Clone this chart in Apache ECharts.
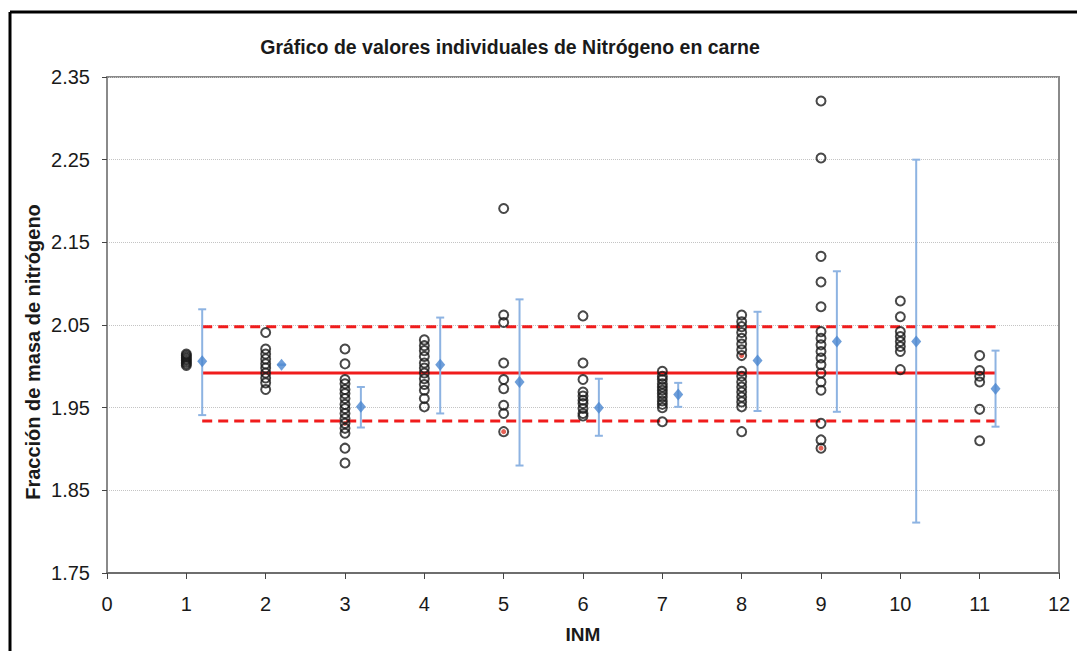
<!DOCTYPE html>
<html>
<head>
<meta charset="utf-8">
<script src="https://cdn.jsdelivr.net/npm/echarts@6/dist/echarts.min.js"></script>
<style>
  html, body { margin: 0; padding: 0; background: #fff; }
  #chart { width: 1077px; height: 651px; }
</style>
</head>
<body>
<div id="chart"></div>
<script>
// individual results per laboratory (INM)
var inm1 = [2.015, 2.013, 2.011, 2.009, 2.007, 2.005, 2.003, 2.001];
var inm2 = [2.041, 2.021, 2.015, 2.009, 2.003, 1.998, 1.992, 1.986, 1.980, 1.972];
var inm3 = [2.021, 2.003, 1.984, 1.979, 1.972, 1.967, 1.961, 1.954, 1.949, 1.943, 1.937, 1.931, 1.925, 1.919, 1.901, 1.883];
var inm4 = [2.032, 2.025, 2.019, 2.012, 2.004, 1.998, 1.992, 1.985, 1.978, 1.971, 1.961, 1.951];
var inm5 = [2.191, 2.062, 2.053, 2.004, 1.984, 1.973, 1.953, 1.943, 1.921];
var inm6 = [2.061, 2.004, 1.984, 1.969, 1.964, 1.959, 1.955, 1.949, 1.943, 1.940];
var inm7 = [1.994, 1.988, 1.984, 1.979, 1.975, 1.971, 1.967, 1.963, 1.958, 1.954, 1.950, 1.933];
var inm8 = [2.062, 2.054, 2.048, 2.041, 2.034, 2.027, 2.020, 2.013, 1.994, 1.988, 1.981, 1.975, 1.969, 1.963, 1.957, 1.951, 1.921];
var inm9 = [2.321, 2.252, 2.133, 2.102, 2.072, 2.042, 2.034, 2.026, 2.018, 2.010, 2.002, 1.992, 1.981, 1.971, 1.931, 1.911, 1.901];
var inm10 = [2.079, 2.060, 2.042, 2.036, 2.030, 2.024, 2.018, 1.996];
var inm11 = [2.013, 1.995, 1.988, 1.981, 1.948, 1.910];
var individual = [inm1, inm2, inm3, inm4, inm5, inm6, inm7, inm8, inm9, inm10, inm11];

// highlighted individual results (red centre)
var redPoints = [[3, 1.931], [5, 1.921], [8, 2.013], [9, 1.901]];

// laboratory means with their uncertainty range (plotted beside each column)
var labX = [1.2, 2.2, 3.2, 4.2, 5.2, 6.2, 7.2, 8.2, 9.2, 10.2, 11.2];
var labMean = [2.006, 2.002, 1.951, 2.002, 1.981, 1.950, 1.966, 2.007, 2.030, 2.030, 1.973];
var labHigh = [2.069, 2.002, 1.975, 2.059, 2.081, 1.985, 1.980, 2.066, 2.115, 2.250, 2.019];
var labLow = [1.941, 2.002, 1.926, 1.943, 1.880, 1.916, 1.951, 1.946, 1.945, 1.811, 1.927];

// reference value and its limits
var refX = [1.2, 11.2];
var refValue = 1.992;
var refUpper = 2.048;
var refLower = 1.934;

var yTicks = [1.75, 1.85, 1.95, 2.05, 2.15, 2.25, 2.35];

var scatterData = [];
individual.forEach(function (vals, i) {
  vals.forEach(function (v) { scatterData.push([i + 1, v]); });
});
var meanData = labX.map(function (x, i) { return [x, labMean[i]]; });
var barData = labX.map(function (x, i) { return [x, labLow[i], labHigh[i]]; });
function refLine(v) { return refX.map(function (x) { return [x, v]; }); }

var chart = echarts.init(document.getElementById('chart'), null, { renderer: 'svg' });
var font = '"Liberation Sans", Arial, sans-serif';

var option = {
  backgroundColor: '#fff',
  animation: false,
  title: {
    text: 'Gráfico de valores individuales de Nitrógeno en carne',
    left: 505,
    textAlign: 'center',
    top: 32,
    textStyle: { fontFamily: font, fontSize: 19.5, fontWeight: 'bold', color: '#1a1a1a' }
  },
  graphic: [
    { type: 'line', shape: { x1: 10, y1: 12, x2: 1077, y2: 12 }, style: { stroke: '#000', lineWidth: 3 } },
    { type: 'line', shape: { x1: 10, y1: 12, x2: 10, y2: 651 }, style: { stroke: '#000', lineWidth: 3 } },
    {
      type: 'text', x: 33, y: 352, rotation: Math.PI / 2,
      style: {
        text: 'Fracción de masa de nitrógeno', fill: '#1a1a1a',
        font: 'bold 20px "Liberation Sans", Arial, sans-serif',
        textAlign: 'center', textVerticalAlign: 'middle'
      }
    }
  ],
  grid: {
    left: 107, right: 18, top: 77, bottom: 78,
    show: true, borderColor: '#8a8a8a', borderWidth: 2
  },
  xAxis: {
    type: 'value', min: 0, max: 12, interval: 1,
    name: 'INM', nameLocation: 'middle', nameGap: 52,
    nameTextStyle: { fontFamily: font, fontSize: 19, fontWeight: 'bold', color: '#1a1a1a' },
    axisLine: { lineStyle: { color: '#6e6e6e', width: 2 } },
    axisTick: { length: 6, lineStyle: { color: '#444' } },
    axisLabel: { margin: 21, fontFamily: font, fontSize: 20, color: '#1a1a1a' },
    splitLine: { show: false }
  },
  yAxis: {
    type: 'value', min: yTicks[0], max: yTicks[yTicks.length - 1], interval: 0.1,
    axisLine: { show: true, lineStyle: { color: '#8a8a8a', width: 2 } },
    axisTick: { show: true, length: 5, lineStyle: { color: '#444' } },
    axisLabel: {
      margin: 17, fontFamily: font, fontSize: 20, color: '#1a1a1a',
      formatter: function (v) { return v.toFixed(2); }
    },
    splitLine: { lineStyle: { color: '#c4c4c4', type: 'dotted', width: 1 } }
  },
  series: [
    {
      type: 'line', data: refLine(refValue), symbol: 'none', z: 3,
      lineStyle: { color: '#f01c1c', width: 3 }
    },
    {
      type: 'line', data: refLine(refUpper), symbol: 'none', z: 3,
      lineStyle: { color: '#f01c1c', width: 3, type: [10, 6] }
    },
    {
      type: 'line', data: refLine(refLower), symbol: 'none', z: 3,
      lineStyle: { color: '#f01c1c', width: 3, type: [10, 6] }
    },
    {
      type: 'custom', z: 4,
      renderItem: function (params, api) {
        var top = api.coord([api.value(0), api.value(2)]);
        var bot = api.coord([api.value(0), api.value(1)]);
        var w = 4;
        var st = { stroke: '#8db3e2', lineWidth: 2 };
        return {
          type: 'group',
          children: [
            { type: 'line', shape: { x1: top[0], y1: top[1], x2: bot[0], y2: bot[1] }, style: st },
            { type: 'line', shape: { x1: top[0] - w, y1: top[1], x2: top[0] + w, y2: top[1] }, style: st },
            { type: 'line', shape: { x1: bot[0] - w, y1: bot[1], x2: bot[0] + w, y2: bot[1] }, style: st }
          ]
        };
      },
      encode: { x: 0, y: [1, 2] },
      data: barData
    },
    {
      type: 'scatter', data: meanData, symbol: 'diamond', symbolSize: [10, 12], z: 5,
      itemStyle: { color: '#4a86cf' }
    },
    {
      type: 'scatter', data: redPoints, symbol: 'circle', symbolSize: 5, z: 5,
      itemStyle: { color: '#e03a2a' }
    },
    {
      type: 'scatter', data: scatterData, symbol: 'circle', symbolSize: 9, z: 6,
      itemStyle: { color: 'rgba(0,0,0,0)', borderColor: '#1a1a1a', borderWidth: 2 }
    }
  ]
};
chart.setOption(option);
window.addEventListener('resize', function () {
  chart.resize();
});
</script>
</body>
</html>
